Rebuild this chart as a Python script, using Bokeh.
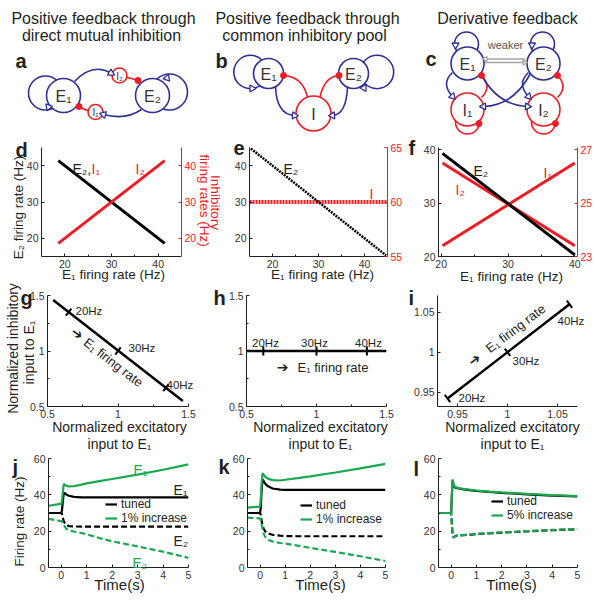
import math
from bokeh.plotting import figure
from bokeh.models import Range1d, LinearAxis, FixedTicker, NumeralTickFormatter, Legend, LegendItem, GridBox, Spacer
from bokeh.layouts import column, row
from bokeh.core.properties import value
from bokeh.embed import file_html
from bokeh.resources import INLINE

FONT = "Liberation Sans"
SYM = "DejaVu Sans"
RED = "#ED1C24"
BLUE = "#2E3192"
GREEN = "#1AA84F"
GRAY = "#A3A3A3"
INK = "#231F20"

# ---------------- data ----------------
# d: direct mutual inhibition, steady states
d_e1 = [18.6, 41.4]
d_e2 = [41.4, 18.6]
d_i2 = [18.6, 41.4]
# e: common inhibitory pool
e_e1 = [15.3, 44.7]
e_e2 = [44.7, 15.3]
e_i_e1 = [15.0, 45.0]
e_i = [60.0, 60.0]
# f: derivative feedback
f_e1 = [20.2, 40.0]
f_e2 = [39.3, 20.3]
f_i1 = [23.4, 26.5]
f_i2 = [26.5, 23.4]
# g, h, i: normalized inputs to E1
g_exc = [0.54, 1.46]
g_inh = [1.46, 0.55]
g_mark_exc = [0.65, 1.0, 1.34]
g_mark_inh = [1.35, 1.0, 0.67]
h_exc = [0.5, 1.5]
h_inh = [1.0, 1.0]
h_mark_exc = [0.62, 1.0, 1.36]
h_mark_inh = [1.0, 1.0, 1.0]
i_exc = [0.94, 1.062]
i_inh = [0.942, 1.06]
i_mark_exc = [0.94, 1.0, 1.062]
i_mark_inh = [0.942, 1.0, 1.06]
rate_labels = ["20Hz", "30Hz", "40Hz"]

# j, k, l: time courses (s, Hz)
t_s = [-0.5, -0.02, 0.0, 0.03, 0.06, 0.1, 0.15, 0.2, 0.3, 0.5, 0.8, 1.0, 1.5, 2.0, 3.0, 4.0, 5.0]
j_tuned_e1 = [30, 30, 30, 31.5, 36, 41, 40.8, 40.2, 39.5, 38.9, 38.6, 38.6, 38.6, 38.6, 38.6, 38.6, 38.6]
j_tuned_e2 = [30, 30, 30, 29.5, 27.5, 25.5, 24.2, 23.4, 22.8, 22.6, 22.5, 22.5, 22.5, 22.5, 22.5, 22.5, 22.5]
j_inc_e1 = [34, 35, 35, 36.5, 41, 46, 45.5, 45, 44.6, 44.8, 45.6, 46.3, 47.5, 48.7, 51.1, 53.8, 56.8]
j_inc_e2 = [26.8, 25.6, 25.5, 25.2, 24.5, 23.5, 22.3, 21.3, 20.4, 19.8, 19.0, 18.3, 16.2, 14.4, 11.6, 8.7, 5.3]
k_tuned_e1 = [30, 30, 30, 33, 42, 48.5, 47.5, 46.3, 44.8, 43.5, 42.9, 42.7, 42.7, 42.7, 42.7, 42.7, 42.7]
k_tuned_e2 = [30, 30, 30, 29, 26, 23, 21.2, 20, 18.8, 18, 17.5, 17.3, 17.2, 17.2, 17.2, 17.2, 17.2]
k_inc_e1 = [33, 33.5, 33.5, 38, 46, 52, 51, 50, 49, 48.1, 47.9, 48.3, 49.2, 50.2, 52.3, 54.6, 57]
k_inc_e2 = [27.5, 27, 27, 26, 24, 21, 18.5, 17, 15.5, 14.3, 13.5, 13.2, 12, 10.8, 8.6, 6.2, 3.6]
l_tuned_e1 = [30, 30, 30, 40, 48, 45, 44.2, 43.8, 43.5, 43, 42.5, 42.2, 41.6, 41.1, 40.3, 39.6, 39.1]
l_tuned_e2 = [30, 30, 30, 24, 18, 16.5, 17.2, 17.5, 17.6, 17.8, 18.1, 18.4, 18.8, 19.2, 19.9, 20.5, 21.1]
l_inc_e1 = [30, 30, 30, 40.5, 48.5, 45.4, 44.5, 44.1, 43.7, 43.2, 42.7, 42.4, 41.8, 41.3, 40.5, 39.8, 39.3]
l_inc_e2 = [30, 30, 30, 23.5, 17.5, 16.3, 17.1, 17.5, 17.7, 17.9, 18.2, 18.5, 18.9, 19.3, 20.0, 20.7, 21.2]

# ---------------- circuit diagrams (page pixel coordinates) ----------------
node_x = [63, 152, 119, 95, 268, 353, 313, 467, 543, 467, 543]
node_y = [95, 95, 75, 111.5, 73, 73, 113, 63, 63, 109, 109]
node_r = [17, 17, 7.5, 7.5, 15, 15, 17.5, 16.5, 16.5, 16.5, 16.5]
node_c = [BLUE, BLUE, RED, RED, BLUE, BLUE, RED, BLUE, BLUE, RED, RED]
node_t = ["E₁", "E₂", "I₂", "I₁", "E₁", "E₂", "I", "E₁", "E₂", "I₁", "I₂"]
node_big = [True, True, False, False, True, True, True, True, True, True, True]

loop_x = [45, 169, 250, 376.5, 466, 542, 467, 543]
loop_y = [92.5, 91.5, 71.5, 71.5, 43.5, 43.5, 121.5, 121.5]
loop_r = [17, 18, 16.7, 16.7, 12, 12, 12, 12]
loop_c = [BLUE, BLUE, BLUE, BLUE, BLUE, BLUE, RED, RED]

con_x0 = [74, 126.5, 141, 87.5, 275, 347, 307, 319.5, 452, 481, 528, 557, 480, 530]
con_y0 = [81, 77, 109, 110, 86, 86, 96.5, 96.5, 72, 97, 72, 97, 73, 73]
con_cx = [92, 132, 125, 83, 276, 346, 302, 324, 440, 492, 516, 568, 497, 513]
con_cy = [62, 78, 120, 109, 114, 114, 76, 76, 83, 86, 83, 86, 105, 105]
con_x1 = [110.5, 137.5, 103, 78.5, 294, 332, 283, 338.5, 452, 481, 528, 557, 527, 483]
con_y1 = [72.5, 80, 114, 106, 115, 115, 75, 75, 96, 75, 96, 75, 106, 106]
con_kind = ["exc", "inh", "exc", "inh", "exc", "exc", "inh", "inh", "exc", "inh", "exc", "inh", "exc", "exc"]

head_x = [48, 166.5, 251.5, 363.5, 455, 531.5]
head_y = [106.5, 77.5, 88, 87.5, 44.5, 44.5]
head_dir = [10, 190, 0, 180, -90, -90]
dot_x = [478.5, 555]
dot_y = [123, 123]

weak_x0 = [484, 484]
weak_x1 = [525, 525]
weak_y = [58.5, 62]
weak_head_x = [485, 524]
weak_head_dir = [180, 0]


def panel(x0, y0, W, H, fl, fr, ft, fb, xr, yr):
    p = figure(width=W, height=H, x_range=Range1d(*xr), y_range=Range1d(*yr),
               min_border_left=fl - x0, min_border_right=x0 + W - fr,
               min_border_top=ft - y0, min_border_bottom=y0 + H - fb,
               output_backend="svg", toolbar_location=None)
    p.outline_line_color = None
    p.xgrid.visible = False
    p.ygrid.visible = False
    return p


def style_axis(ax, ticks, minor=(), color=INK, label_color="#333333"):
    ax.ticker = FixedTicker(ticks=list(ticks), minor_ticks=list(minor))
    ax.formatter = NumeralTickFormatter(format="0.[00]")
    ax.axis_line_color = color
    ax.major_tick_line_color = color
    ax.minor_tick_line_color = color
    ax.major_tick_in = 3
    ax.major_tick_out = 0
    ax.minor_tick_in = 2
    ax.minor_tick_out = 0
    ax.major_label_text_color = label_color
    ax.major_label_text_font = FONT
    ax.major_label_text_font_size = "10.5px"
    ax.major_label_standoff = 3


def red_right_axis(p, rng, ticks, minor=()):
    p.extra_y_ranges = {"inh": Range1d(*rng)}
    ax = LinearAxis(y_range_name="inh")
    style_axis(ax, ticks, minor, color=RED, label_color=RED)
    p.add_layout(ax, "right")


# ---------------- annotation canvas (page coordinates), drawn over the panels ----------------
cv = figure(width=597, height=601, x_range=Range1d(0, 597), y_range=Range1d(601, 0),
            min_border=0, output_backend="svg", toolbar_location=None,
            x_axis_location=None, y_axis_location=None)
cv.outline_line_color = None
cv.grid.visible = False
cv.background_fill_color = None
cv.border_fill_color = None


def T(x, y, text, size="14px", color=INK, angle=0.0, align="center", baseline="middle",
      style="normal", font=FONT):
    cv.text(x=[x], y=[y], text=[text], angle=angle, text_font=value(font), text_font_size=size,
            text_color=color, text_align=align, text_baseline=baseline, text_font_style=style)


# diagrams
cv.circle(x=loop_x, y=loop_y, radius=loop_r, fill_color=None, line_color=loop_c, line_width=1.6)
con_col = [RED if k == "inh" else BLUE for k in con_kind]
cv.quadratic(x0=con_x0, y0=con_y0, cx=con_cx, cy=con_cy, x1=con_x1, y1=con_y1,
             line_color=con_col, line_width=1.6)
cv.segment(x0=weak_x0, y0=weak_y, x1=weak_x1, y1=weak_y, line_color=GRAY, line_width=1.6)
cv.circle(x=node_x, y=node_y, radius=node_r, fill_color="white", line_color=node_c, line_width=1.6)

exc_i = [i for i, k in enumerate(con_kind) if k == "exc"]
inh_i = [i for i, k in enumerate(con_kind) if k == "inh"]
ex_ang = [math.atan2(-(con_y1[i] - con_cy[i]), con_x1[i] - con_cx[i]) - math.pi / 2 for i in exc_i]
cv.scatter(x=[con_x1[i] for i in exc_i], y=[con_y1[i] for i in exc_i], marker="triangle",
           size=7, angle=ex_ang, fill_color="white", line_color=BLUE, line_width=1.3)
cv.scatter(x=[con_x1[i] for i in inh_i], y=[con_y1[i] for i in inh_i], marker="circle",
           size=6, fill_color=RED, line_color=RED)
cv.scatter(x=head_x, y=head_y, marker="triangle", size=7,
           angle=[math.radians(a) - math.pi / 2 for a in head_dir],
           fill_color="white", line_color=BLUE, line_width=1.3)
cv.scatter(x=dot_x, y=dot_y, marker="circle", size=6, fill_color=RED, line_color=RED)
cv.scatter(x=weak_head_x, y=weak_y, marker="triangle", size=5,
           angle=[math.radians(a) - math.pi / 2 for a in weak_head_dir],
           fill_color="white", line_color=GRAY, line_width=1.2)

big = [i for i, b in enumerate(node_big) if b]
small = [i for i, b in enumerate(node_big) if not b]
cv.text(x=[node_x[i] for i in big], y=[node_y[i] + 1 for i in big], text=[node_t[i] for i in big],
        text_font=value(FONT), text_font_size="16px", text_align="center", text_baseline="middle",
        text_color="#333333")
cv.text(x=[node_x[i] for i in small], y=[node_y[i] + 0.5 for i in small], text=[node_t[i] for i in small],
        text_font=value(FONT), text_font_size="10px", text_align="center", text_baseline="middle",
        text_color="#333333")
T(505, 44, "weaker", size="11px", color="#555555")
for tx, ty, tt in zip([103, 101, 307, 304, 507], [17.5, 35, 17.5, 35, 17.5],
                      ["Positive feedback through", "direct mutual inhibition", "Positive feedback through",
                       "common inhibitory pool", "Derivative feedback"]):
    T(tx, ty, tt, size="16px", baseline="alphabetic")

# panel letters
for lx, ly, lt in zip([15, 215, 425, 15, 233, 408, 20, 213, 408, 12, 218, 413],
                      [60, 60, 58, 149, 147, 147, 297, 297, 297, 466, 466, 468],
                      ["a", "b", "c", "d", "e", "f", "g", "h", "i", "j", "k", "l"]):
    T(lx, ly, lt, size="20px", style="bold", align="left", baseline="alphabetic")

# row 2 texts
T(18, 207, "E₂ firing rate (Hz)", size="13.5px", angle=math.pi / 2)
T(113, 274, "E₁ firing rate (Hz)", size="13.5px")
T(215, 202, "Inhibitory", size="13.5px", color=RED, angle=-math.pi / 2)
T(204, 200, "firing rates (Hz)", size="13.5px", color=RED, angle=-math.pi / 2)
T(72, 168, "E₂,", align="left", baseline="alphabetic")
T(91, 168, "I₁", color=RED, align="left", baseline="alphabetic")
T(135, 168, "I₂", color=RED, align="left", baseline="alphabetic")
T(322, 274, "E₁ firing rate (Hz)", size="13.5px")
T(283, 168, "E₂", align="left", baseline="alphabetic")
T(369, 193, "I", color=RED, align="left", baseline="alphabetic")
T(511, 276, "E₁ firing rate (Hz)", size="13.5px")
T(473, 170, "E₂", align="left", baseline="alphabetic")
T(455, 189, "I₂", color=RED, align="left", baseline="alphabetic")
T(543, 172, "I₁", color=RED, align="left", baseline="alphabetic")

# row 3 texts
T(12, 348, "Normalized inhibitory", angle=math.pi / 2)
T(28, 352, "input to E₁", angle=math.pi / 2)
for cx_ in [119, 320, 512]:
    T(cx_, 426, "Normalized excitatory")
    T(cx_, 443, "input to E₁")
for lx, ly, txt in zip([75, 128, 166], [310, 347, 384], rate_labels):
    T(lx, ly, txt, size="11.5px", align="left")
T(77, 333, "➔", size="14px", font=SYM, angle=-0.66)
T(113, 362, "E₁ firing rate", size="13px", angle=-0.66)
for lx, txt in zip([265, 314, 368], rate_labels):
    T(lx, 342, txt, size="11.5px")
T(282, 366, "➔", size="14px", font=SYM)
T(297, 367, "E₁ firing rate", size="13px", align="left")
for lx, ly, txt in zip([458, 512, 557], [397, 360, 320], rate_labels):
    T(lx, ly, txt, size="11.5px", align="left")
T(474, 359, "➔", size="14px", font=SYM, angle=0.65)
T(515, 328, "E₁ firing rate", size="13px", angle=0.65)

# row 4 texts
T(19, 521, "Firing rate (Hz)", size="13.5px", angle=math.pi / 2)
for cx_ in [119, 320, 511]:
    T(cx_, 584, "Time(s)", size="15px")
T(133, 469, "E₁", color=GREEN, align="left", baseline="alphabetic")
T(173, 489, "E₁", align="left", baseline="alphabetic")
T(173, 540, "E₂", align="left", baseline="alphabetic")
T(132, 562, "E₂", color=GREEN, align="left", baseline="alphabetic")

# ---------------- row 2: d, e, f ----------------
d = panel(0, 134, 222, 147, 41, 181, 147, 256, (15, 45), (15, 45))
style_axis(d.xaxis[0], [20, 30, 40], [25, 35])
style_axis(d.yaxis[0], [20, 30, 40])
red_right_axis(d, (15, 45), [20, 30, 40])
d.line(d_e1, d_e2, line_color="black", line_width=3)
d.line(d_e1, d_i2, line_color=RED, line_width=3, y_range_name="inh")

e = panel(222, 134, 183, 147, 249, 388, 147, 256, (15, 45), (15, 45))
style_axis(e.xaxis[0], [20, 30, 40], [25, 35])
style_axis(e.yaxis[0], [20, 30, 40])
red_right_axis(e, (55, 65), [55, 60, 65])
e.line(e_i_e1, e_i, line_color=RED, line_width=4, line_dash="2 1", y_range_name="inh")
e.line(e_e1, e_e2, line_color="black", line_width=2.5, line_dash="2 1")

f = panel(405, 134, 192, 147, 438, 577, 147, 256, (19.6, 40.4), (20, 40.4))
style_axis(f.xaxis[0], [20, 30, 40], [25, 35])
style_axis(f.yaxis[0], [20, 30, 40])
red_right_axis(f, (23, 27.08), [23, 25, 27])
f.line(f_e1, f_i2, line_color=RED, line_width=3, y_range_name="inh")
f.line(f_e1, f_i1, line_color=RED, line_width=3, y_range_name="inh")
f.line(f_e1, f_e2, line_color="black", line_width=3)

# ---------------- row 3: g, h, i ----------------
g = panel(0, 281, 222, 170, 47, 188, 295, 406, (0.5, 1.5), (0.5, 1.5))
style_axis(g.xaxis[0], [0.5, 1, 1.5], [0.75, 1.25])
style_axis(g.yaxis[0], [0.5, 1, 1.5], [0.75, 1.25])
g.line(g_exc, g_inh, line_color="black", line_width=2.5)
g.scatter(g_mark_exc, g_mark_inh, marker="dash", size=9, angle=0.92, line_color="black", line_width=2)

h = panel(222, 281, 183, 170, 246, 386, 295, 406, (0.5, 1.5), (0.5, 1.5))
style_axis(h.xaxis[0], [0.5, 1, 1.5], [0.75, 1.25])
style_axis(h.yaxis[0], [0.5, 1, 1.5], [0.75, 1.25])
h.line(h_exc, h_inh, line_color="black", line_width=2.5)
h.scatter(h_mark_exc, h_mark_inh, marker="dash", size=9, angle=math.pi / 2, line_color="black", line_width=2)

i = panel(405, 281, 192, 170, 437, 577, 295, 406, (0.93, 1.07), (0.932, 1.071))
style_axis(i.xaxis[0], [0.95, 1, 1.05])
style_axis(i.yaxis[0], [0.95, 1, 1.05])
i.line(i_exc, i_inh, line_color="black", line_width=2.5)
i.scatter(i_mark_exc, i_mark_inh, marker="dash", size=9, angle=-0.92, line_color="black", line_width=2)


# ---------------- row 4: j, k, l ----------------
def time_panel(x0, W, fl, fr, tuned_e1, tuned_e2, inc_e1, inc_e2, inc_label, leg_loc):
    p = panel(x0, 451, W, 150, fl, fr, 458, 567, (-0.5, 5), (0, 60))
    style_axis(p.xaxis[0], [0, 1, 2, 3, 4, 5])
    style_axis(p.yaxis[0], [0, 20, 40, 60], [10, 30, 50])
    r_t1 = p.line(t_s, tuned_e1, line_color="black", line_width=2.2)
    p.line(t_s, tuned_e2, line_color="black", line_width=2.2, line_dash="6 3")
    r_i1 = p.line(t_s, inc_e1, line_color=GREEN, line_width=2.2)
    p.line(t_s, inc_e2, line_color=GREEN, line_width=2.2, line_dash="6 3")
    leg = Legend(items=[LegendItem(label="tuned", renderers=[r_t1]),
                        LegendItem(label=inc_label, renderers=[r_i1])],
                 location=leg_loc, border_line_color=None, background_fill_alpha=0,
                 padding=0, margin=0, spacing=0, glyph_width=12, glyph_height=12,
                 label_height=12, label_standoff=4, label_text_font=FONT,
                 label_text_font_size="12px", label_text_color=INK)
    p.add_layout(leg)
    return p


j = time_panel(0, 222, 48, 188, j_tuned_e1, j_tuned_e2, j_inc_e1, j_inc_e2, "1% increase", (57, 42))
k = time_panel(222, 186, 247, 385, k_tuned_e1, k_tuned_e2, k_inc_e1, k_inc_e2, "1% increase", (53, 41))
l = time_panel(408, 189, 438, 577, l_tuned_e1, l_tuned_e2, l_inc_e1, l_inc_e2, "5% increase", (53, 45))

panels = column(Spacer(width=597, height=134), row(d, e, f), row(g, h, i), row(j, k, l))
layout = GridBox(children=[(panels, 0, 0), (cv, 0, 0)])
open("out.html", "w").write(file_html(layout, INLINE))
